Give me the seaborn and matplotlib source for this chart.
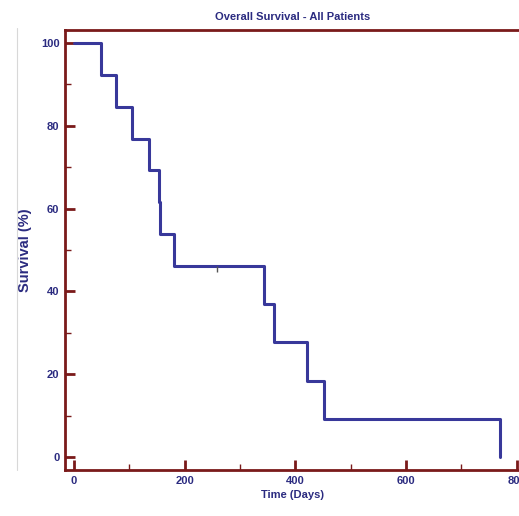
import matplotlib
matplotlib.use("Agg")
import matplotlib.pyplot as plt
import seaborn as sns
import pandas as pd
from matplotlib.ticker import MultipleLocator

# Kaplan-Meier step data
times = [0, 49, 76, 105, 136, 154, 155, 180, 344, 362, 422, 451, 769]
survival = [100, 92.3, 84.6, 76.9, 69.2, 61.5, 53.8, 46.2, 36.9, 27.7, 18.5, 9.2, 0]
censor_times = [258]
censor_surv = [46.2]

title = "Overall Survival - All Patients"
xlabel = "Time (Days)"
ylabel = "Survival (%)"

sns.set_theme(style="white")
plt.rcParams['font.family'] = ['Liberation Sans', 'DejaVu Sans']

navy = "#38389a"
text_navy = "#2b2b80"
spine_red = "#7a1a1a"

fig = plt.figure(figsize=(5.19, 5.16), dpi=100)
ax = fig.add_axes([65/519, 46/516, 1.0 - 65/519 + 0.002, 440/516])

df = pd.DataFrame({"t": times, "s": survival})
sns.lineplot(data=df, x="t", y="s", ax=ax, drawstyle="steps-post",
             color=navy, linewidth=2.2, estimator=None, sort=False)
ax.plot(censor_times, [c - 0.7 for c in censor_surv], linestyle="none",
        marker="|", markersize=5, color="#555555", markeredgewidth=1.0)

ax.set_xlim(-16, 806)
ax.set_ylim(-3.1, 103.1)
ax.xaxis.set_major_locator(MultipleLocator(200))
ax.xaxis.set_minor_locator(MultipleLocator(100))
ax.yaxis.set_major_locator(MultipleLocator(20))
ax.yaxis.set_minor_locator(MultipleLocator(10))

for side in ["left", "bottom", "top", "right"]:
    ax.spines[side].set_color(spine_red)
    ax.spines[side].set_linewidth(2.0)
    ax.spines[side].set_visible(True)

ax.tick_params(axis="both", which="major", direction="in", length=7, width=2,
               color=spine_red, labelcolor=text_navy, labelsize=8, pad=4)
ax.tick_params(axis="both", which="minor", direction="in", length=4, width=1,
               color=spine_red)
ax.tick_params(bottom=True, left=True, top=False, right=False, which="both")
for lab in ax.get_xticklabels() + ax.get_yticklabels():
    lab.set_fontweight("bold")

ax.set_title(title, fontsize=8, fontweight="bold", color=text_navy, pad=7)
ax.set_xlabel(xlabel, fontsize=8, fontweight="bold", color=text_navy, labelpad=3)
ax.set_ylabel(ylabel, fontsize=10.5, fontweight="bold", color=text_navy, labelpad=6)

# thin grey line at left of the picture
fig.add_artist(plt.Line2D([17/519, 17/519], [46/516, 1 - 28/516],
                          transform=fig.transFigure, color="#d8d8d8", linewidth=0.8))

fig.savefig("out.png", dpi=100)
